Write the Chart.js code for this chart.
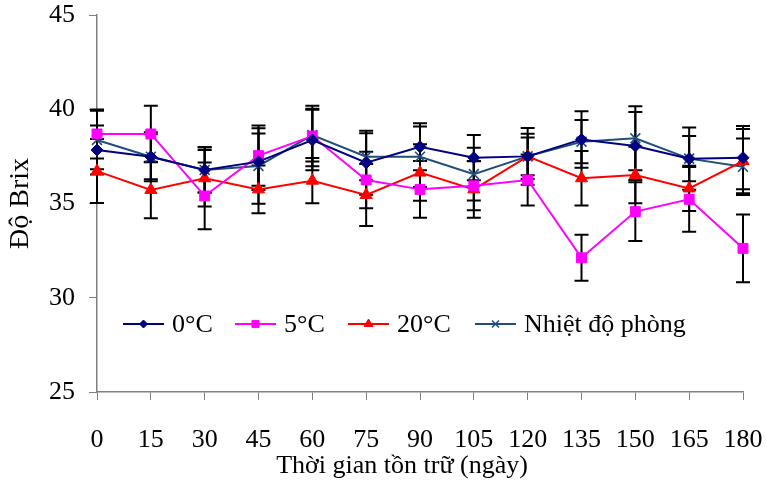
<!DOCTYPE html>
<html>
<head>
<meta charset="utf-8">
<script src="https://cdn.jsdelivr.net/npm/chart.js@4.4.1/dist/chart.umd.min.js"></script>
<style>
  html, body { margin: 0; padding: 0; background: #ffffff; }
  #wrap { width: 767px; height: 487px; position: relative; }
</style>
</head>
<body>
<div id="wrap"><canvas id="c" width="767" height="487"></canvas></div>
<script>
// ---- Data ----
const days = ['0', '15', '30', '45', '60', '75', '90', '105', '120', '135', '150', '165', '180'];

const seriesNames = ['0°C', '5°C', '20°C', 'Nhiệt độ phòng'];

const brix0C   = [37.84, 37.48, 36.78, 37.22, 38.37, 37.16, 38.01, 37.43, 37.50, 38.40, 38.05, 37.38, 37.43];
const brix5C   = [38.69, 38.69, 35.40, 37.54, 38.58, 36.25, 35.75, 35.94, 36.25, 32.12, 34.57, 35.22, 32.62];
const brix20C  = [36.72, 35.72, 36.34, 35.75, 36.21, 35.45, 36.64, 35.75, 37.50, 36.34, 36.51, 35.80, 37.25];
const brixRoom = [38.37, 37.48, 36.78, 36.99, 38.63, 37.48, 37.48, 36.56, 37.50, 38.28, 38.46, 37.38, 36.95];

// symmetric error (± values)
const err0C   = [1.30, 1.30, 1.20, 1.50, 1.60, 1.70, 1.25, 1.20, 1.50, 1.50, 1.80, 1.65, 1.68];
const err5C   = [1.30, 1.50, 1.77, 1.60, 1.60, 1.50, 1.50, 1.30, 1.35, 1.22, 1.56, 1.72, 1.80];
const err20C  = [1.70, 1.50, 1.50, 1.27, 1.20, 1.64, 1.50, 1.50, 1.00, 1.45, 1.50, 1.20, 1.70];
const errRoom = [1.55, 1.20, 1.20, 2.00, 1.40, 1.25, 1.60, 1.40, 1.20, 1.15, 1.70, 1.20, 1.50];

const yTicks = [25, 30, 35, 40, 45];

const xTitle = 'Thời gian tồn trữ (ngày)';
const yTitle = 'Độ Brix';

// ---- Styles ----
const FONT = '"Liberation Serif", "Times New Roman", serif';
const styles = [
  { color: '#000080', pointStyle: 'rectRot', radius: 6, borderWidth: 1 },
  { color: '#FF00FF', pointStyle: 'rect', radius: 7, borderWidth: 1 },
  { color: '#FF0000', pointStyle: 'triangle', radius: 7, borderWidth: 1 },
  { color: '#1F4E79', pointStyle: 'crossRot', radius: 7, borderWidth: 1.6 }
];
const values = [brix0C, brix5C, brix20C, brixRoom];
const errors = [err0C, err5C, err20C, errRoom];

const datasets = values.map((v, i) => ({
  label: seriesNames[i],
  data: v,
  errors: errors[i],
  borderColor: styles[i].color,
  backgroundColor: styles[i].color,
  pointBackgroundColor: styles[i].color,
  pointBorderColor: styles[i].color,
  pointStyle: styles[i].pointStyle,
  pointRadius: styles[i].radius,
  pointHoverRadius: styles[i].radius,
  pointBorderWidth: styles[i].borderWidth,
  borderWidth: 2,
  tension: 0,
  fill: false
}));

// Error bars drawn through the chart's own scales
const errorBarPlugin = {
  id: 'errorBars',
  beforeDatasetsDraw(chart) {
    const { ctx, scales: { x, y } } = chart;
    ctx.save();
    ctx.strokeStyle = '#000000';
    ctx.lineWidth = 2;
    chart.data.datasets.forEach(ds => {
      ds.data.forEach((v, i) => {
        const e = ds.errors[i];
        const px = x.getPixelForValue(i);
        const top = y.getPixelForValue(v + e);
        const bot = y.getPixelForValue(v - e);
        const cap = 7;
        ctx.beginPath();
        ctx.moveTo(px, top); ctx.lineTo(px, bot);
        ctx.moveTo(px - cap, top); ctx.lineTo(px + cap, top);
        ctx.moveTo(px - cap, bot); ctx.lineTo(px + cap, bot);
        ctx.stroke();
      });
    });
    ctx.restore();
  }
};

// Legend inside the plot area, line + marker style
const legendPlugin = {
  id: 'innerLegend',
  afterDatasetsDraw(chart) {
    const { ctx } = chart;
    const starts = [123, 235, 348, 475];
    const ly = 324;
    const lineLen = 41;
    ctx.save();
    chart.data.datasets.forEach((ds, i) => {
      const x0 = starts[i];
      ctx.strokeStyle = ds.borderColor;
      ctx.lineWidth = 2;
      ctx.beginPath();
      ctx.moveTo(x0, ly); ctx.lineTo(x0 + lineLen, ly);
      ctx.stroke();
      ctx.fillStyle = ds.pointBackgroundColor;
      ctx.strokeStyle = ds.pointBorderColor;
      ctx.lineWidth = ds.pointBorderWidth;
      Chart.helpers.drawPoint(ctx, {
        pointStyle: ds.pointStyle,
        radius: Math.max(ds.pointRadius - 2, 3),
        rotation: 0,
        borderWidth: ds.pointBorderWidth
      }, x0 + lineLen / 2, ly);
      ctx.fillStyle = '#000000';
      ctx.font = '26px ' + FONT;
      ctx.textBaseline = 'middle';
      ctx.textAlign = 'left';
      ctx.fillText(ds.label, x0 + lineLen + 8, ly + 1);
    });
    ctx.restore();
  }
};

// X-axis title
const xTitlePlugin = {
  id: 'xTitle',
  afterDraw(chart) {
    const { ctx } = chart;
    ctx.save();
    ctx.fillStyle = '#000000';
    ctx.font = '26px ' + FONT;
    ctx.textAlign = 'center';
    ctx.textBaseline = 'middle';
    ctx.fillText(xTitle, 402, 466);
    ctx.restore();
  }
};

function zeroPad(scale) {
  scale.paddingTop = 0; scale.paddingBottom = 0;
  scale.paddingLeft = 0; scale.paddingRight = 0;
}

new Chart(document.getElementById('c'), {
  type: 'line',
  data: { labels: days, datasets },
  plugins: [errorBarPlugin, legendPlugin, xTitlePlugin],
  options: {
    responsive: false,
    animation: false,
    devicePixelRatio: 1,
    layout: { padding: { left: 0, right: 24, top: 15, bottom: 0 } },
    plugins: { legend: { display: false }, tooltip: { enabled: false } },
    scales: {
      x: {
        type: 'category',
        offset: false,
        grid: { display: true, drawOnChartArea: false, drawTicks: true, tickLength: 8, color: '#808080', lineWidth: 1 },
        border: { display: true, color: '#808080', width: 1.5 },
        ticks: { color: '#000000', font: { family: FONT, size: 26 }, padding: 25, maxRotation: 0, autoSkip: false },
        afterFit(scale) { scale.height = 95; zeroPad(scale); }
      },
      y: {
        min: 25, max: 45,
        afterBuildTicks(scale) { scale.ticks = yTicks.map(v => ({ value: v })); },
        grid: { display: true, drawOnChartArea: false, drawTicks: true, tickLength: 8, color: '#808080', lineWidth: 1 },
        border: { display: true, color: '#808080', width: 1.5 },
        ticks: { color: '#000000', font: { family: FONT, size: 26 }, padding: 14 },
        title: { display: true, text: yTitle, color: '#000000', font: { family: FONT, size: 28 }, padding: { top: 4, bottom: 0 } },
        afterFit(scale) { scale.width = 97; zeroPad(scale); }
      }
    }
  }
});
</script>
</body>
</html>
